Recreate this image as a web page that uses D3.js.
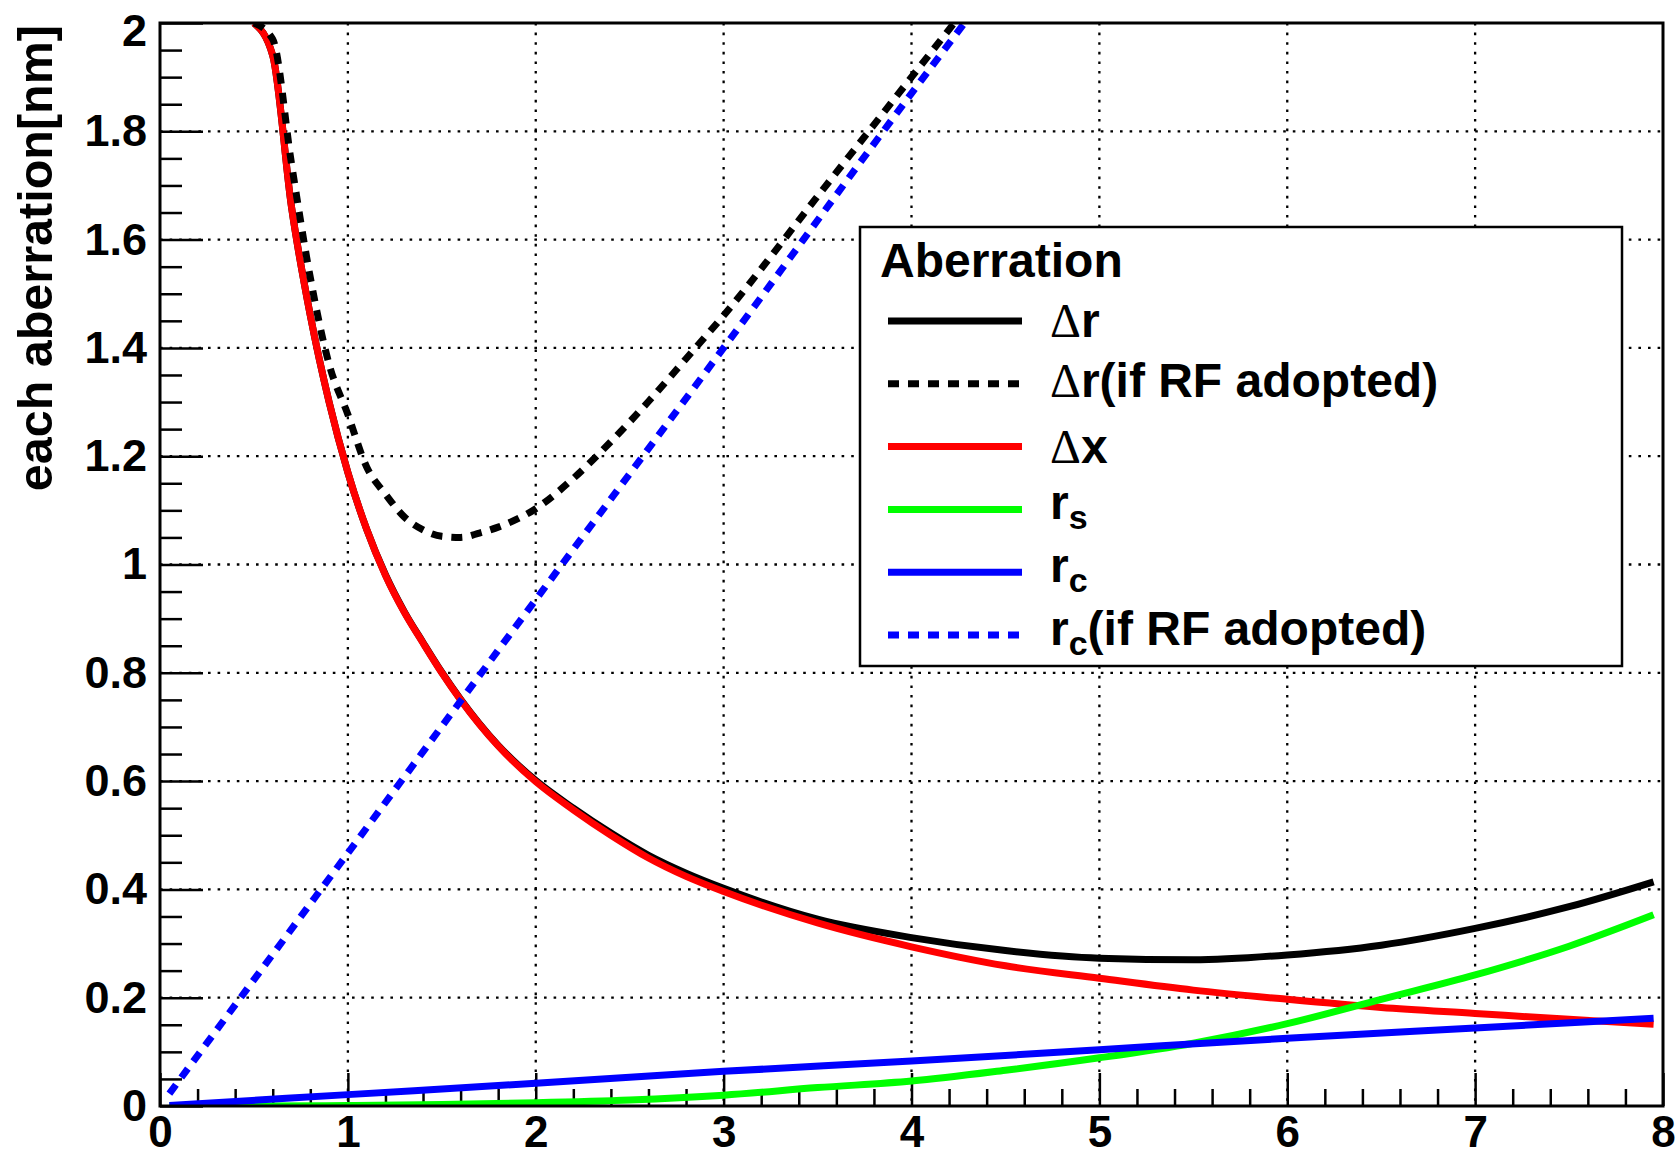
<!DOCTYPE html>
<html>
<head>
<meta charset="utf-8">
<script src="https://cdn.jsdelivr.net/npm/d3@7"></script>
<style>
  html, body { margin: 0; padding: 0; background: #ffffff; }
  svg { display: block; }
</style>
</head>
<body>
<svg id="chart" width="1675" height="1157"></svg>
<script>
// ---- data -------------------------------------------------------------
// aberration sizes [nm] against the horizontal parameter
const xDeltaX  = [0.5, 0.6, 0.7, 0.8, 0.9, 1.0, 1.1, 1.2, 1.3, 1.4, 1.5, 1.6, 1.7, 1.8, 2.0, 2.2, 2.4, 2.6, 2.8, 3.0, 3.5, 4.0, 4.5, 5.0, 5.5, 6.0, 6.5, 7.0, 7.5, 7.95];
const deltaX   = [2.0, 1.94, 1.66, 1.46, 1.30, 1.17, 1.065, 0.980, 0.912, 0.855, 0.800, 0.750, 0.705, 0.665, 0.599, 0.547, 0.500, 0.458, 0.424, 0.396, 0.338, 0.294, 0.259, 0.236, 0.214, 0.197, 0.182, 0.171, 0.160, 0.151];
const deltaR   = [2.0, 1.94, 1.66, 1.46, 1.30, 1.17, 1.065, 0.981, 0.913, 0.856, 0.801, 0.751, 0.706, 0.666, 0.601, 0.550, 0.504, 0.463, 0.430, 0.402, 0.345, 0.311, 0.287, 0.273, 0.270, 0.279, 0.297, 0.328, 0.368, 0.414];

const xDeltaRrf = [0.5, 0.6, 0.7, 0.8, 0.9, 1.0, 1.1, 1.2, 1.3, 1.4, 1.5, 1.6, 1.7, 1.8, 2.0, 2.2, 2.4, 2.6, 2.8, 3.0, 3.5, 4.0, 4.5];
const deltaRrf  = [2.0, 1.97, 1.74, 1.53, 1.37, 1.277, 1.18, 1.13, 1.088, 1.064, 1.052, 1.050, 1.058, 1.069, 1.103, 1.159, 1.227, 1.301, 1.38, 1.46, 1.68, 1.90, 2.12];

const xRs = [0.05, 0.5, 1.0, 1.5, 2.0, 2.5, 3.0, 3.5, 4.0, 4.5, 5.0, 5.5, 6.0, 6.5, 7.0, 7.5, 7.95];
const rS  = [0.0, 0.0, 0.001, 0.003, 0.006, 0.011, 0.020, 0.034, 0.046, 0.066, 0.089, 0.116, 0.152, 0.197, 0.242, 0.295, 0.353];

const xRc = [0.05, 1.0, 2.0, 3.0, 4.0, 5.0, 6.0, 7.0, 7.95];
const rC  = [0.001, 0.021, 0.042, 0.064, 0.083, 0.104, 0.125, 0.144, 0.162];

const xRcRf = [0.05, 1.0, 2.0, 3.0, 4.0, 4.5];
const rCrf  = [0.023, 0.467, 0.935, 1.40, 1.87, 2.10];

// axis ticks and labels
const xMajor = [0, 1, 2, 3, 4, 5, 6, 7, 8];
const xLabels = ["0", "1", "2", "3", "4", "5", "6", "7", "8"];
const yMajor = [0, 0.2, 0.4, 0.6, 0.8, 1.0, 1.2, 1.4, 1.6, 1.8, 2.0];
const yLabels = ["0", "0.2", "0.4", "0.6", "0.8", "1", "1.2", "1.4", "1.6", "1.8", "2"];
const yTitle = "each aberration[nm]";
const legendTitle = "Aberration";

// ---- layout -----------------------------------------------------------
const svg = d3.select("#chart");
const FONT = "'Liberation Sans', Arial, Helvetica, sans-serif";
const frame = { left: 160, right: 1663, top: 23, bottom: 1106 };

const x = d3.scaleLinear().domain([0, 8]).range([frame.left, frame.right]);
const y = d3.scaleLinear().domain([0, 2]).range([frame.bottom, frame.top]);

// minor tick positions between the majors
const xMinor = d3.range(0, 8.0001, 0.2).map(v => +v.toFixed(2)).filter(v => Math.abs(v - Math.round(v)) > 1e-6);
const yMinor = d3.range(0, 2.0001, 0.05).map(v => +v.toFixed(2)).filter(v => Math.abs(v * 5 - Math.round(v * 5)) > 1e-6);

// ---- grid -------------------------------------------------------------
const grid = svg.append("g").attr("stroke", "#000").attr("stroke-width", 2.3)
  .attr("stroke-dasharray", "2.6,7");
grid.selectAll("line.gx").data(xMajor.slice(1, -1)).join("line")
  .attr("x1", d => x(d)).attr("x2", d => x(d))
  .attr("y1", frame.top).attr("y2", frame.bottom);
grid.selectAll("line.gy").data(yMajor.slice(1, -1)).join("line")
  .attr("x1", frame.left).attr("x2", frame.right)
  .attr("y1", d => y(d)).attr("y2", d => y(d));

// ---- axes -------------------------------------------------------------
function styleAxis(g, size) {
  g.select(".domain").remove();
  g.selectAll(".tick line").attr("stroke", "#000").attr("stroke-width", 2.5);
  g.selectAll(".tick text")
    .attr("fill", "#000")
    .style("font-family", FONT)
    .style("font-weight", "bold")
    .style("font-size", (size || 45) + "px");
}

const yAxis = svg.append("g").attr("transform", `translate(${frame.left},0)`)
  .call(d3.axisLeft(y).tickValues(yMajor).tickSize(-43).tickPadding(13)
    .tickFormat((d, i) => yLabels[i]))
  .call(styleAxis);
// keep the top label inside the canvas
yAxis.selectAll(".tick text").filter(d => d === 2).attr("dy", "0.5em");

svg.append("g").attr("transform", `translate(${frame.left},0)`)
  .call(d3.axisLeft(y).tickValues(yMinor).tickSize(-22).tickFormat(""))
  .call(styleAxis);

svg.append("g").attr("transform", `translate(0,${frame.bottom})`)
  .call(d3.axisBottom(x).tickValues(xMajor).tickSize(-33).tickPadding(10)
    .tickFormat((d, i) => xLabels[i]))
  .call(g => styleAxis(g, 44));

svg.append("g").attr("transform", `translate(0,${frame.bottom})`)
  .call(d3.axisBottom(x).tickValues(xMinor).tickSize(-17).tickFormat(""))
  .call(styleAxis);

// y axis title, right-aligned to the top of the axis
svg.append("text")
  .attr("transform", "rotate(-90)")
  .attr("x", -25).attr("y", 52)
  .attr("text-anchor", "end")
  .style("font-family", FONT).style("font-weight", "bold").style("font-size", "48.5px")
  .text(yTitle);

// ---- curves -----------------------------------------------------------
svg.append("clipPath").attr("id", "plot-clip")
  .append("rect")
  .attr("x", frame.left).attr("y", frame.top)
  .attr("width", frame.right - frame.left).attr("height", frame.bottom - frame.top);

const series = [
  { xs: xDeltaX,   ys: deltaR,   color: "#000000", dash: null, label: [{ t: "Δ", greek: true }, { t: "r" }] },
  { xs: xDeltaRrf, ys: deltaRrf, color: "#000000", dash: "11,9", label: [{ t: "Δ", greek: true }, { t: "r(if RF adopted)" }] },
  { xs: xDeltaX,   ys: deltaX,   color: "#ff0000", dash: null, label: [{ t: "Δ", greek: true }, { t: "x" }] },
  { xs: xRs,       ys: rS,       color: "#00ff00", dash: null, label: [{ t: "r" }, { t: "s", sub: true }] },
  { xs: xRc,       ys: rC,       color: "#0000ff", dash: null, label: [{ t: "r" }, { t: "c", sub: true }] },
  { xs: xRcRf,     ys: rCrf,     color: "#0000ff", dash: "11,9", label: [{ t: "r" }, { t: "c", sub: true }, { t: "(if RF adopted)" }] }
];

// drawing order: solid Δr, Δx, r_s, r_c, then the dotted RF curves on top
const drawOrder = [0, 2, 3, 4, 1, 5];
const line = d3.line().x(d => x(d[0])).y(d => y(d[1])).curve(d3.curveMonotoneX);
const curves = svg.append("g").attr("clip-path", "url(#plot-clip)");
drawOrder.forEach(k => {
  const s = series[k];
  curves.append("path")
    .datum(s.xs.map((v, i) => [v, s.ys[i]]))
    .attr("d", line)
    .attr("fill", "none")
    .attr("stroke", s.color)
    .attr("stroke-width", 7)
    .attr("stroke-linejoin", "round")
    .attr("stroke-dasharray", s.dash);
});

// ---- frame ------------------------------------------------------------
svg.append("rect")
  .attr("x", frame.left).attr("y", frame.top)
  .attr("width", frame.right - frame.left).attr("height", frame.bottom - frame.top)
  .attr("fill", "none").attr("stroke", "#000").attr("stroke-width", 3);

// ---- legend -----------------------------------------------------------
const leg = { x: 860, y: 227, w: 762, h: 439 };
const lg = svg.append("g");
lg.append("rect")
  .attr("x", leg.x).attr("y", leg.y).attr("width", leg.w).attr("height", leg.h)
  .attr("fill", "#fff").attr("stroke", "#000").attr("stroke-width", 2.5);

lg.append("text")
  .attr("x", 880).attr("y", 277)
  .style("font-family", FONT).style("font-weight", "bold").style("font-size", "48px")
  .text(legendTitle);

series.forEach((s, i) => {
  const cy = 321 + i * 62.8;
  lg.append("line")
    .attr("x1", 888).attr("x2", 1022).attr("y1", cy).attr("y2", cy)
    .attr("stroke", s.color).attr("stroke-width", 7)
    .attr("stroke-dasharray", s.dash);
  const hasSub = s.label.some(p => p.sub);
  const hasParen = s.label.some(p => p.t.includes("("));
  const off = 16 - (hasSub ? 6 : (hasParen ? 3 : 0));
  const txt = lg.append("text")
    .attr("x", 1050).attr("y", cy + off)
    .style("font-family", FONT).style("font-weight", "bold").style("font-size", "48px");
  let shifted = false;
  s.label.forEach(p => {
    const ts = txt.append("tspan").text(p.t);
    if (p.greek) {
      ts.style("font-family", "'Liberation Serif', 'DejaVu Serif', serif").style("font-weight", "normal");
    }
    if (p.sub) {
      ts.style("font-size", "34px").attr("dy", 10);
      shifted = true;
    } else if (shifted) {
      ts.attr("dy", -10);
      shifted = false;
    }
  });
});
</script>
</body>
</html>
